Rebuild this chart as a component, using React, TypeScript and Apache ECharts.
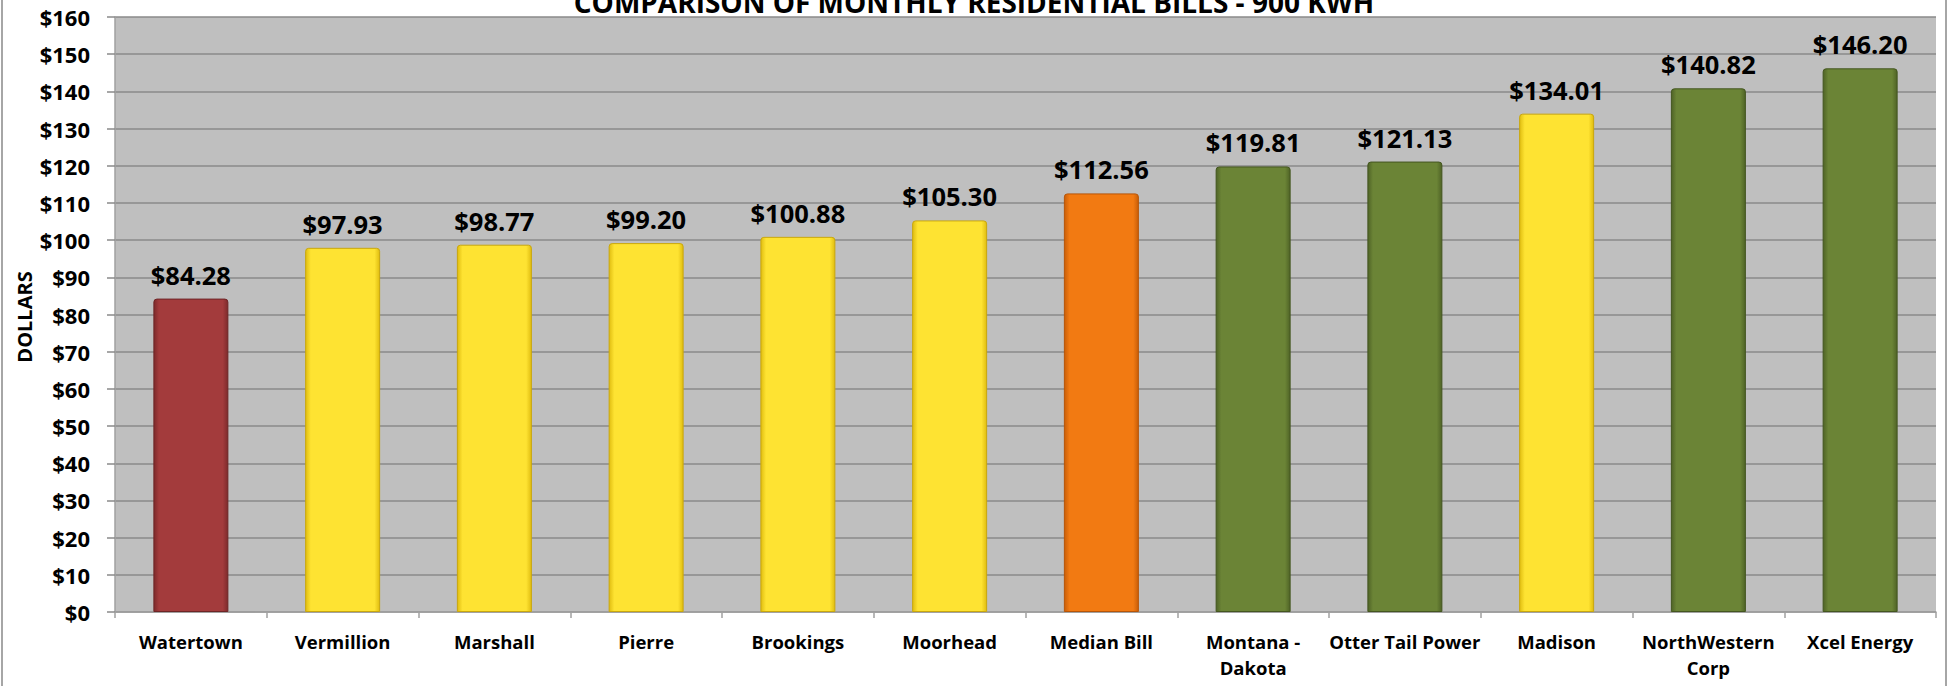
import React, { useEffect, useRef } from "react";
import * as echarts from "echarts";

const categories = [
  "Watertown",
  "Vermillion",
  "Marshall",
  "Pierre",
  "Brookings",
  "Moorhead",
  "Median Bill",
  "Montana -\nDakota",
  "Otter Tail Power",
  "Madison",
  "NorthWestern\nCorp",
  "Xcel Energy",
];
const bills = [84.28, 97.93, 98.77, 99.2, 100.88, 105.3, 112.56, 119.81, 121.13, 134.01, 140.82, 146.2];
const barColorKeys = ["red", "yellow", "yellow", "yellow", "yellow", "yellow", "orange", "green", "green", "yellow", "green", "green"];
const titleText = "COMPARISON OF MONTHLY RESIDENTIAL BILLS - 900 KWH";
const yAxisTitle = "DOLLARS";
const yMin = 0;
const yMax = 160;
const yStep = 10;

const palette: Record<string, { base: string; edge: string; border: string }> = {
  red: { base: "#a33b3c", edge: "#7e2a2b", border: "#6e2526" },
  yellow: { base: "#fee332", edge: "#e0bd10", border: "#c9a70d" },
  orange: { base: "#f27a12", edge: "#c95e08", border: "#b85507" },
  green: { base: "#6b8436", edge: "#4f6326", border: "#44561f" },
};

const FONT = "'Open Sans', 'Noto Sans', sans-serif";

export default function App() {
  const ref = useRef<HTMLDivElement>(null);
  useEffect(() => {
    if (!ref.current) return;
    const chart = echarts.init(ref.current, null, { renderer: "svg" });
    const data = bills.map((v, i) => {
      const p = palette[barColorKeys[i]];
      return {
        value: v,
        itemStyle: {
          color: new echarts.graphic.LinearGradient(0, 0, 1, 0, [
            { offset: 0, color: p.edge },
            { offset: 0.07, color: p.base },
            { offset: 0.93, color: p.base },
            { offset: 1, color: p.edge },
          ]),
          borderColor: p.border,
          borderWidth: 1,
          borderRadius: [3, 3, 0, 0],
        },
      };
    });
    chart.setOption({
      animation: false,
      backgroundColor: "#ffffff",
      grid: {
        left: 115,
        right: 13,
        top: 17,
        bottom: 74,
        show: true,
        backgroundColor: "#bfbfbf",
        borderWidth: 0,
      },
      graphic: [
        {
          type: "rect",
          shape: { x: 2, y: -10, width: 1944, height: 720 },
          style: { fill: "none", stroke: "#a6a6a6", lineWidth: 2 },
          silent: true,
        },
        {
          type: "text",
          x: 974,
          y: -12,
          style: {
            text: titleText,
            font: `bold 28px ${FONT}`,
            fill: "#000000",
            textAlign: "center",
            textVerticalAlign: "top",
          },
        },
        {
          type: "text",
          x: 24,
          y: 317,
          rotation: Math.PI / 2,
          style: {
            text: yAxisTitle,
            font: `bold 20px ${FONT}`,
            fill: "#000000",
            textAlign: "center",
            textVerticalAlign: "middle",
          },
        },
      ],
      xAxis: {
        type: "category",
        data: categories,
        axisLine: { show: true, lineStyle: { color: "#a0a0a0", width: 1.5 } },
        axisTick: { show: true, alignWithLabel: false, length: 6, lineStyle: { color: "#a0a0a0", width: 1.5 } },
        axisLabel: {
          interval: 0,
          margin: 16,
          fontFamily: FONT,
          fontWeight: "bold",
          fontSize: 18.5,
          lineHeight: 26,
          color: "#000000",
        },
        splitLine: { show: false },
      },
      yAxis: {
        type: "value",
        min: yMin,
        max: yMax,
        interval: yStep,
        axisLine: { show: true, lineStyle: { color: "#a0a0a0", width: 1.5 } },
        axisTick: { show: true, length: 8, lineStyle: { color: "#8a8a8a", width: 1.5 } },
        axisLabel: {
          margin: 25,
          fontFamily: FONT,
          fontWeight: "bold",
          fontSize: 22,
          color: "#000000",
          formatter: (v: number) => "$" + v,
        },
        splitLine: { show: true, lineStyle: { color: "#8a8a8a", width: 1.5 } },
      },
      series: [
        {
          type: "bar",
          data,
          barWidth: 75,
          label: {
            show: true,
            position: "top",
            distance: 11,
            fontFamily: FONT,
            fontWeight: "bold",
            fontSize: 25.5,
            color: "#000000",
            formatter: (p: any) => "$" + Number(p.value).toFixed(2),
          },
        },
      ],
    });
    return () => chart.dispose();
  }, []);
  return (
    <div
      ref={ref}
      style={{ position: "fixed", left: 0, top: 0, width: 1949, height: 686, background: "#fff" }}
    />
  );
}
